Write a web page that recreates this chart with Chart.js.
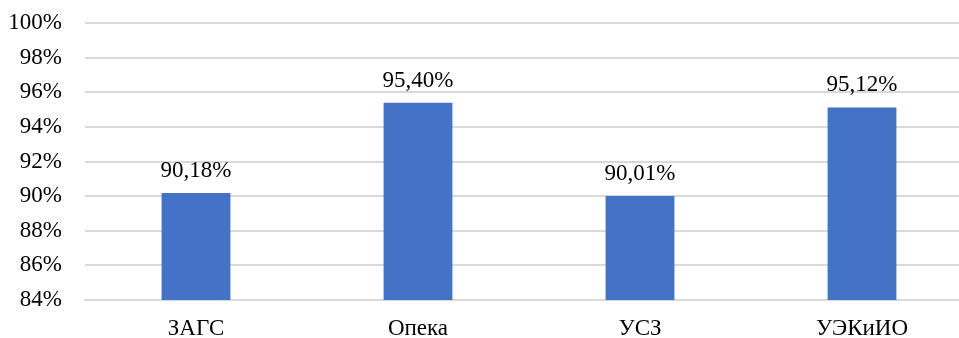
<!DOCTYPE html>
<html>
<head>
<meta charset="utf-8">
<script src="https://cdn.jsdelivr.net/npm/chart.js@4/dist/chart.umd.min.js"></script>
<style>
  html, body { margin: 0; padding: 0; background: #fff; overflow: hidden; }
  #wrap { width: 975px; height: 338px; }
</style>
</head>
<body>
<div id="wrap"><canvas id="chart1" width="975" height="338"></canvas></div>
<script>
// categories and values
var categories = ["ЗАГС", "Опека", "УСЗ", "УЭКиИО"];
var values = [90.18, 95.40, 90.01, 95.12];
var valueLabels = ["90,18%", "95,40%", "90,01%", "95,12%"];
var yMin = 84;
var yMax = 100;
var yStep = 2;

var fontFamily = "'Liberation Serif', 'Times New Roman', serif";
var fontSize = 23;

// draws the value above each bar
var barLabels = {
	id: "barLabels",
	afterDatasetsDraw: function(chart) {
		var ctx = chart.ctx;
		var meta = chart.getDatasetMeta(0);
		ctx.save();
		ctx.font = fontSize + "px " + fontFamily;
		ctx.fillStyle = "#000";
		ctx.textAlign = "center";
		ctx.textBaseline = "alphabetic";
		meta.data.forEach(function(bar, i) {
			ctx.fillText(valueLabels[i], bar.x, bar.y - 16);
		});
		ctx.restore();
	}
};

var ctx = document.getElementById("chart1");

var chart = new Chart(ctx, {
	type: "bar",
	data: {
		labels: categories,
		datasets: [{
			data: values,
			backgroundColor: "#4472C4",
			borderWidth: 0,
			categoryPercentage: 0.31,
			barPercentage: 1
		}]
	},
	options: {
		responsive: false,
		animation: false,
		layout: { padding: { top: 0, right: 2, bottom: 0, left: 0 } },
		plugins: { legend: { display: false }, tooltip: { enabled: false } },
		scales: {
			x: {
				grid: { display: false, drawTicks: false },
				border: { display: true, color: "#d9d9d9", width: 2 },
				ticks: { color: "#000", font: { family: fontFamily, size: fontSize }, padding: 15 },
				afterFit: function(axis) { axis.height = 38; }
			},
			y: {
				min: yMin,
				max: yMax,
				grid: { color: "#d9d9d9", lineWidth: 2, drawTicks: false },
				border: { display: false },
				ticks: {
					stepSize: yStep,
					color: "#000",
					font: { family: fontFamily, size: fontSize },
					padding: 23,
					callback: function(v) { return v + "%"; }
				},
				afterFit: function(axis) {
					axis.width = 85;
					axis.paddingTop = 23;
					axis.paddingBottom = 0;
				}
			}
		}
	},
	plugins: [barLabels]
});
</script>
</body>
</html>
